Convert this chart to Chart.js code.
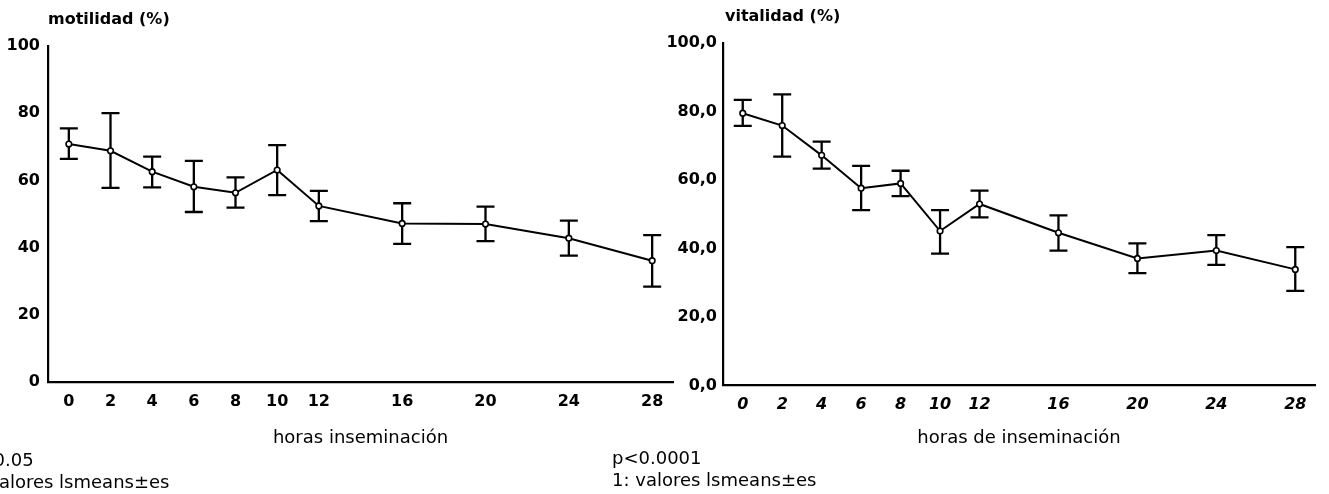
<!DOCTYPE html>
<html><head><meta charset="utf-8">
<script src="https://cdn.jsdelivr.net/npm/chart.js@4.4.1/dist/chart.umd.min.js"></script>
<style>
html,body{margin:0;padding:0;background:#fff;width:1329px;height:494px;overflow:hidden;}
canvas{position:absolute;top:0;}
#c1{left:0;}
#c2{left:600px;}
</style></head><body>
<canvas id="c1" width="690" height="494"></canvas>
<canvas id="c2" width="729" height="494"></canvas>
<script>
// ---- data ----
const hours = [0, 2, 4, 6, 8, 10, 12, 16, 20, 24, 28];
const xTickLabels = ['0','2','4','6','8','10','12','16','20','24','28'];
const yTickValues = [0, 20, 40, 60, 80, 100];
const yTickLabelsMot = ['0','20','40','60','80','100'];
const yTickLabelsVit = ['0,0','20,0','40,0','60,0','80,0','100,0'];

const motMean  = [70.8, 68.8, 62.6, 58.1, 56.3, 63.1, 52.4, 47.2, 47.0, 42.8, 36.1];
const motUpper = [75.5, 80.0, 67.1, 65.8, 60.9, 70.5, 56.9, 53.2, 52.2, 48.0, 43.7];
const motLower = [66.4, 57.8, 57.9, 50.6, 51.9, 55.6, 47.9, 41.1, 41.9, 37.6, 28.4];

const vitMean  = [79.5, 75.9, 67.2, 57.6, 59.0, 45.1, 53.0, 44.6, 37.1, 39.4, 33.9];
const vitUpper = [83.4, 85.0, 71.2, 64.1, 62.7, 51.2, 56.9, 49.7, 41.5, 43.9, 40.4];
const vitLower = [75.8, 66.8, 63.3, 51.2, 55.3, 38.5, 49.1, 39.4, 32.8, 35.2, 27.6];

const FAM = "'DejaVu Sans', 'Liberation Sans', Arial, sans-serif";

function errPlugin(lower, upper) {
  return {
    id: 'errbars',
    beforeDatasetsDraw(chart) {
      const {ctx, scales: {x, y}} = chart;
      ctx.save();
      ctx.strokeStyle = '#000';
      ctx.lineWidth = 2.3;
      hours.forEach((h, i) => {
        const px = x.getPixelForValue(h);
        const pt = y.getPixelForValue(upper[i]);
        const pb = y.getPixelForValue(lower[i]);
        ctx.beginPath();
        ctx.moveTo(px, pt); ctx.lineTo(px, pb);
        ctx.moveTo(px - 9, pt); ctx.lineTo(px + 9, pt);
        ctx.moveTo(px - 9, pb); ctx.lineTo(px + 9, pb);
        ctx.stroke();
      });
      ctx.restore();
    }
  };
}

function textPlugin(items) {
  return {
    id: 'texts',
    afterDraw(chart) {
      const ctx = chart.ctx;
      ctx.save();
      ctx.fillStyle = '#000';
      ctx.textBaseline = 'middle';
      ctx.textAlign = 'left';
      items.forEach(t => {
        ctx.font = t.font;
        ctx.fillText(t.text, t.x, t.y);
      });
      ctx.restore();
    }
  };
}

function makeChart(id, cfg) {
  return new Chart(document.getElementById(id), {
    type: 'line',
    data: {
      datasets: [{
        data: hours.map((h, i) => ({x: h, y: cfg.mean[i]})),
        borderColor: '#000',
        borderWidth: 2,
        pointRadius: 2.8,
        pointBorderWidth: 1.6,
        pointBackgroundColor: '#fff',
        pointBorderColor: '#000',
        tension: 0,
        clip: false
      }]
    },
    options: {
      responsive: false,
      animation: false,
      events: [],
      layout: {padding: cfg.padding},
      plugins: {legend: {display: false}, tooltip: {enabled: false}, title: {display: false}},
      scales: {
        x: {
          type: 'linear', min: -1, max: 29,
          afterBuildTicks: s => { s.ticks = hours.map(v => ({value: v})); },
          afterFit: s => { s.height = cfg.xHeight; },
          grid: {display: false, drawTicks: false},
          border: {display: true, color: '#000', width: 2.2},
          ticks: {
            autoSkip: false, maxRotation: 0, padding: 10, color: '#000',
            font: {family: FAM, size: 16, weight: 'bold', style: cfg.xStyle},
            callback: (v, i) => xTickLabels[i]
          },
          title: {
            display: true, text: cfg.xTitle, color: '#000',
            font: {family: FAM, size: 18},
            padding: {top: 0, bottom: 45}
          }
        },
        y: {
          type: 'linear', min: 0, max: 100,
          afterBuildTicks: s => { s.ticks = yTickValues.map(v => ({value: v})); },
          afterFit: s => { s.width = cfg.yWidth; },
          grid: {display: false, drawTicks: false},
          border: {display: true, color: '#000', width: 2.2},
          ticks: {
            padding: cfg.yPad, color: '#000',
            font: {family: FAM, size: 16, weight: 'bold'},
            callback: (v, i) => cfg.yLabels[i]
          }
        }
      }
    },
    plugins: [errPlugin(cfg.lower, cfg.upper), textPlugin(cfg.texts)]
  });
}

makeChart('c1', {
  mean: motMean, upper: motUpper, lower: motLower,
  yLabels: yTickLabelsMot, xTitle: 'horas inseminación', xStyle: 'normal',
  padding: {left: 0, right: 17, top: 46, bottom: 0},
  xHeight: 112, yWidth: 48, yPad: 8,
  texts: [
    {text: 'motilidad (%)', x: 48, y: 20, font: "bold 16px " + FAM},
    {text: 'p<0.05', x: -33, y: 461, font: "18px " + FAM},
    {text: '1: valores lsmeans\u00b1es', x: -35, y: 483, font: "18px " + FAM}
  ]
});

makeChart('c2', {
  mean: vitMean, upper: vitUpper, lower: vitLower,
  yLabels: yTickLabelsVit, xTitle: 'horas de inseminación', xStyle: 'italic',
  padding: {left: 0, right: 14, top: 43, bottom: 0},
  xHeight: 108.5, yWidth: 123, yPad: 6,
  texts: [
    {text: 'vitalidad (%)', x: 125, y: 17, font: "bold 16px " + FAM},
    {text: 'p<0.0001', x: 12, y: 459, font: "18px " + FAM},
    {text: '1: valores lsmeans\u00b1es', x: 12, y: 481, font: "18px " + FAM}
  ]
});
</script>
</body></html>
